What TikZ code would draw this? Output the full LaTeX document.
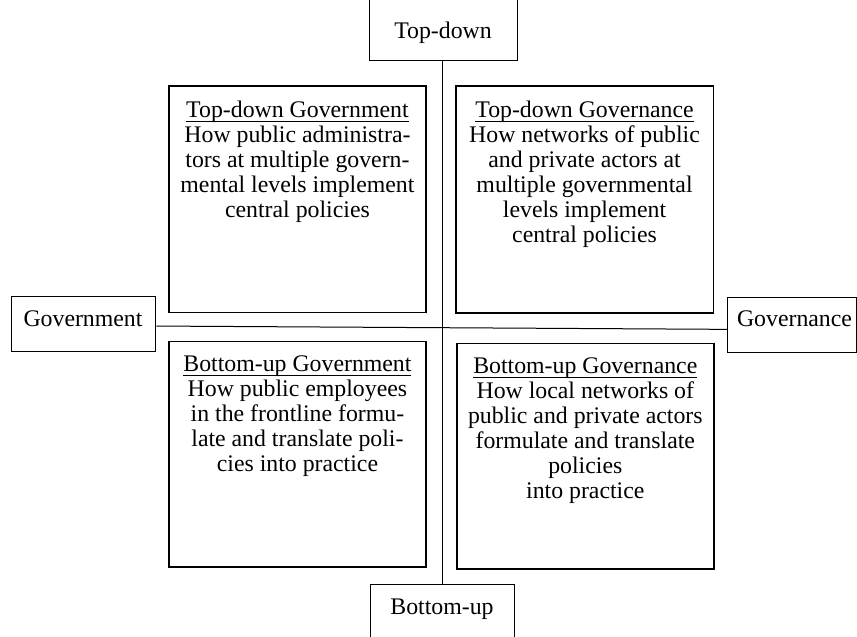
\documentclass[tikz,border=0pt]{standalone}
\usepackage{fontspec}
\setmainfont{Liberation Serif}
\newcommand\ulin[1]{\setbox0\hbox{#1}\rlap{\rule[-4.3pt]{\wd0}{0.9pt}}\box0}
\tikzset{
  qbox/.style={draw, line width=1.6pt, inner sep=0pt},
  sbox/.style={draw, line width=1.3pt, inner sep=0pt},
  qtext/.style={align=center, inner sep=0pt, font=\fontsize{23.8}{25}\selectfont},
  stext/.style={inner sep=0pt, anchor=base, font=\fontsize{23.8}{25}\selectfont},
  conn/.style={line width=1pt}
}
\begin{document}
\begin{tikzpicture}[x=1pt,y=1pt]
\useasboundingbox (0,0) rectangle (857,-637);
% quadrant boxes
\node[qbox, minimum width=257.3pt, minimum height=226.7pt, anchor=north west] (tl) at (168,-85) {};
\node[qbox, minimum width=257.5pt, minimum height=227pt, anchor=north west] (tr) at (455,-85) {};
\node[qbox, minimum width=256.7pt, minimum height=225.3pt, anchor=north west] (bl) at (168.3,-340.7) {};
\node[qbox, minimum width=257pt, minimum height=225.3pt, anchor=north west] (br) at (456,-342.7) {};
\node[qtext, anchor=north] (tlt) at ([yshift=-16pt]tl.north) {\ulin{Top-down Government}\\How public administra-\\tors at multiple govern-\\mental levels implement\\central policies};
\node[qtext, anchor=north] (trt) at ([yshift=-16pt]tr.north) {\ulin{Top-down Governance}\\How networks of public\\and private actors at\\multiple governmental\\levels implement\\central policies};
\node[qtext, anchor=north] (blt) at ([yshift=-14.5pt]bl.north) {\ulin{Bottom-up Government}\\How public employees\\in the frontline formu-\\late and translate poli-\\cies into practice};
\node[qtext, anchor=north] (brt) at ([yshift=-14.5pt]br.north) {\ulin{Bottom-up Governance}\\How local networks of\\public and private actors\\formulate and translate\\policies\\into practice};
% axis boxes
\node[sbox, minimum width=148pt, minimum height=68pt, anchor=south west] (td) at (369,-61) {};
\node[stext] (tdt) at (443,-38.3) {Top-down};
\node[sbox, minimum width=144pt, minimum height=60pt, anchor=north west] (bu) at (370,-584) {};
\node[stext] (but) at (442,-614) {Bottom-up};
\node[sbox, minimum width=144pt, minimum height=55pt, anchor=south west] (gov) at (11,-352) {};
\node[stext] (govt) at (83,-326.7) {Government};
\node[sbox, minimum width=129pt, minimum height=55pt, anchor=south west] (gvn) at (727,-353) {};
\node[stext] (gvnt) at (794.5,-326.7) {Governance};
% axes
\draw[conn] (td.south -| 442,0) -- (bu.north -| 442,0);
\draw[conn] ([yshift=-2.2pt]gov.east) -- ([yshift=-4.5pt]gvn.west);
\end{tikzpicture}
\end{document}
